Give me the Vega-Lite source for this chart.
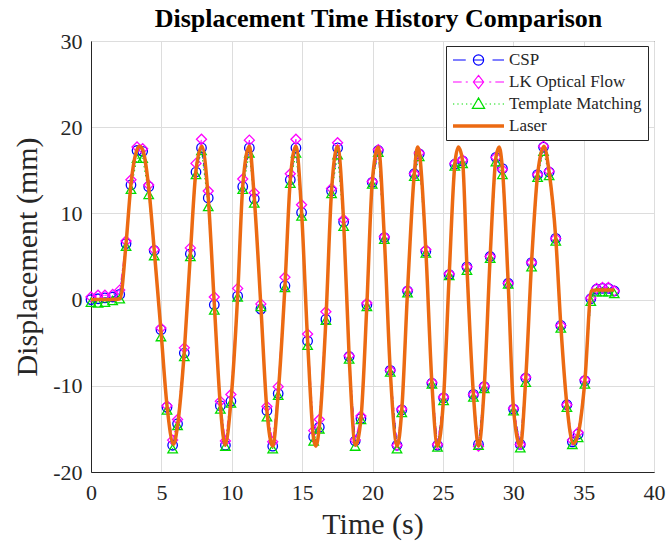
{
  "$schema": "https://vega.github.io/schema/vega-lite/v6.json",
  "width": 563,
  "height": 431,
  "autosize": {"type": "none"},
  "padding": {"left": 91, "top": 41, "right": 16, "bottom": 75},
  "background": "white",
  "title": {"text": "Displacement Time History Comparison", "font": "Liberation Serif", "fontSize": 26, "fontWeight": "bold", "color": "#000000", "anchor": "middle", "offset": -2, "dx": 6},
  "config": {
    "view": {"stroke": "#262626", "strokeWidth": 1},
    "axis": {"labelFont": "Liberation Serif", "labelFontSize": 22, "labelColor": "#262626", "titleFont": "Liberation Serif", "titleFontSize": 30, "titleFontWeight": "normal", "titleColor": "#262626", "gridColor": "#DDDDDD", "gridWidth": 1, "ticks": false, "domainColor": "#262626", "labelFlush": false},
    "legend": {"labelFont": "Liberation Serif", "labelFontSize": 17, "labelColor": "#262626"}
  },
  "datasets": {
    "markers": [
      {"t": 0, "CSP": 0.0, "LK Optical Flow": 0.3, "Template Matching": -0.3},
      {"t": 0.5, "CSP": 0.1, "LK Optical Flow": 0.5, "Template Matching": -0.4},
      {"t": 0.99, "CSP": 0.2, "LK Optical Flow": 0.5, "Template Matching": -0.3},
      {"t": 1.54, "CSP": 0.3, "LK Optical Flow": 0.6, "Template Matching": -0.1},
      {"t": 2.04, "CSP": 0.6, "LK Optical Flow": 1.1, "Template Matching": 0.1},
      {"t": 2.49, "CSP": 6.5, "LK Optical Flow": 6.8, "Template Matching": 6.2},
      {"t": 2.84, "CSP": 13.3, "LK Optical Flow": 13.9, "Template Matching": 12.8},
      {"t": 3.27, "CSP": 17.3, "LK Optical Flow": 17.7, "Template Matching": 16.4},
      {"t": 3.67, "CSP": 17.2, "LK Optical Flow": 17.5, "Template Matching": 16.4},
      {"t": 4.10, "CSP": 13.1, "LK Optical Flow": 13.3, "Template Matching": 12.2},
      {"t": 4.49, "CSP": 5.7, "LK Optical Flow": 5.8, "Template Matching": 5.1},
      {"t": 4.97, "CSP": -3.5, "LK Optical Flow": -3.3, "Template Matching": -4.3},
      {"t": 5.40, "CSP": -12.5, "LK Optical Flow": -12.3, "Template Matching": -12.8},
      {"t": 5.80, "CSP": -16.9, "LK Optical Flow": -16.3, "Template Matching": -17.3},
      {"t": 6.15, "CSP": -14.4, "LK Optical Flow": -13.9, "Template Matching": -14.6},
      {"t": 6.63, "CSP": -6.2, "LK Optical Flow": -5.6, "Template Matching": -6.6},
      {"t": 7.06, "CSP": 5.3, "LK Optical Flow": 6.0, "Template Matching": 5.0},
      {"t": 7.46, "CSP": 14.8, "LK Optical Flow": 15.8, "Template Matching": 14.5},
      {"t": 7.85, "CSP": 17.6, "LK Optical Flow": 18.6, "Template Matching": 17.3},
      {"t": 8.33, "CSP": 11.8, "LK Optical Flow": 12.6, "Template Matching": 10.8},
      {"t": 8.76, "CSP": -0.6, "LK Optical Flow": 0.3, "Template Matching": -1.2},
      {"t": 9.19, "CSP": -12.3, "LK Optical Flow": -11.8, "Template Matching": -12.7},
      {"t": 9.55, "CSP": -16.9, "LK Optical Flow": -16.4, "Template Matching": -17.0},
      {"t": 9.94, "CSP": -11.8, "LK Optical Flow": -11.0, "Template Matching": -12.0},
      {"t": 10.42, "CSP": 0.4, "LK Optical Flow": 1.3, "Template Matching": 0.3},
      {"t": 10.78, "CSP": 13.1, "LK Optical Flow": 14.0, "Template Matching": 12.8},
      {"t": 11.25, "CSP": 17.6, "LK Optical Flow": 18.5, "Template Matching": 17.0},
      {"t": 11.60, "CSP": 11.7, "LK Optical Flow": 12.4, "Template Matching": 11.2},
      {"t": 12.07, "CSP": -1.1, "LK Optical Flow": -0.5, "Template Matching": -0.8},
      {"t": 12.50, "CSP": -12.9, "LK Optical Flow": -12.4, "Template Matching": -13.6},
      {"t": 12.91, "CSP": -17.0, "LK Optical Flow": -16.5, "Template Matching": -17.3},
      {"t": 13.30, "CSP": -10.9, "LK Optical Flow": -10.1, "Template Matching": -11.1},
      {"t": 13.78, "CSP": 1.6, "LK Optical Flow": 2.6, "Template Matching": 1.4},
      {"t": 14.16, "CSP": 13.9, "LK Optical Flow": 14.6, "Template Matching": 13.5},
      {"t": 14.56, "CSP": 17.6, "LK Optical Flow": 18.6, "Template Matching": 17.0},
      {"t": 14.96, "CSP": 10.1, "LK Optical Flow": 11.0, "Template Matching": 9.7},
      {"t": 15.39, "CSP": -4.8, "LK Optical Flow": -4.0, "Template Matching": -5.3},
      {"t": 15.82, "CSP": -15.9, "LK Optical Flow": -15.2, "Template Matching": -16.4},
      {"t": 16.22, "CSP": -14.8, "LK Optical Flow": -13.9, "Template Matching": -15.0},
      {"t": 16.69, "CSP": -2.3, "LK Optical Flow": -1.4, "Template Matching": -2.4},
      {"t": 17.09, "CSP": 12.6, "LK Optical Flow": 12.9, "Template Matching": 12.3},
      {"t": 17.52, "CSP": 17.6, "LK Optical Flow": 18.2, "Template Matching": 16.8},
      {"t": 17.95, "CSP": 9.0, "LK Optical Flow": 9.3, "Template Matching": 8.5},
      {"t": 18.34, "CSP": -6.6, "LK Optical Flow": -6.5, "Template Matching": -6.9},
      {"t": 18.77, "CSP": -16.4, "LK Optical Flow": -16.3, "Template Matching": -17.0},
      {"t": 19.18, "CSP": -13.8, "LK Optical Flow": -13.5, "Template Matching": -13.9},
      {"t": 19.60, "CSP": -0.6, "LK Optical Flow": -0.4, "Template Matching": -0.8},
      {"t": 19.98, "CSP": 13.6, "LK Optical Flow": 13.7, "Template Matching": 13.4},
      {"t": 20.41, "CSP": 17.3, "LK Optical Flow": 17.4, "Template Matching": 17.1},
      {"t": 20.84, "CSP": 7.2, "LK Optical Flow": 7.3, "Template Matching": 7.0},
      {"t": 21.26, "CSP": -8.2, "LK Optical Flow": -8.2, "Template Matching": -8.4},
      {"t": 21.74, "CSP": -16.9, "LK Optical Flow": -16.9, "Template Matching": -17.3},
      {"t": 22.08, "CSP": -12.8, "LK Optical Flow": -12.7, "Template Matching": -13.1},
      {"t": 22.49, "CSP": 1.0, "LK Optical Flow": 1.1, "Template Matching": 0.8},
      {"t": 22.97, "CSP": 14.6, "LK Optical Flow": 14.6, "Template Matching": 14.3},
      {"t": 23.32, "CSP": 16.9, "LK Optical Flow": 17.0, "Template Matching": 16.6},
      {"t": 23.79, "CSP": 5.6, "LK Optical Flow": 5.8, "Template Matching": 5.4},
      {"t": 24.22, "CSP": -9.7, "LK Optical Flow": -9.6, "Template Matching": -9.8},
      {"t": 24.62, "CSP": -16.9, "LK Optical Flow": -16.8, "Template Matching": -17.1},
      {"t": 25.05, "CSP": -11.4, "LK Optical Flow": -11.3, "Template Matching": -11.7},
      {"t": 25.45, "CSP": 2.9, "LK Optical Flow": 3.0, "Template Matching": 2.8},
      {"t": 25.85, "CSP": 15.7, "LK Optical Flow": 15.8, "Template Matching": 15.5},
      {"t": 26.40, "CSP": 16.1, "LK Optical Flow": 16.2, "Template Matching": 15.8},
      {"t": 26.71, "CSP": 3.8, "LK Optical Flow": 3.8, "Template Matching": 3.4},
      {"t": 27.17, "CSP": -11.0, "LK Optical Flow": -11.0, "Template Matching": -11.3},
      {"t": 27.53, "CSP": -16.8, "LK Optical Flow": -17.0, "Template Matching": -16.9},
      {"t": 27.94, "CSP": -10.1, "LK Optical Flow": -10.0, "Template Matching": -10.3},
      {"t": 28.36, "CSP": 5.0, "LK Optical Flow": 5.0, "Template Matching": 4.8},
      {"t": 28.77, "CSP": 16.5, "LK Optical Flow": 16.5, "Template Matching": 16.0},
      {"t": 29.23, "CSP": 15.2, "LK Optical Flow": 15.1, "Template Matching": 14.5},
      {"t": 29.64, "CSP": 1.9, "LK Optical Flow": 1.9, "Template Matching": 1.8},
      {"t": 30.02, "CSP": -12.7, "LK Optical Flow": -12.6, "Template Matching": -12.9},
      {"t": 30.50, "CSP": -16.8, "LK Optical Flow": -16.8, "Template Matching": -17.2},
      {"t": 30.89, "CSP": -9.1, "LK Optical Flow": -9.0, "Template Matching": -9.6},
      {"t": 31.30, "CSP": 4.3, "LK Optical Flow": 4.3, "Template Matching": 3.8},
      {"t": 31.73, "CSP": 14.5, "LK Optical Flow": 14.5, "Template Matching": 14.2},
      {"t": 32.15, "CSP": 17.7, "LK Optical Flow": 17.8, "Template Matching": 17.2},
      {"t": 32.55, "CSP": 14.8, "LK Optical Flow": 14.9, "Template Matching": 14.4},
      {"t": 33.02, "CSP": 7.1, "LK Optical Flow": 7.1, "Template Matching": 6.8},
      {"t": 33.38, "CSP": -3.0, "LK Optical Flow": -3.0, "Template Matching": -3.3},
      {"t": 33.81, "CSP": -12.2, "LK Optical Flow": -12.2, "Template Matching": -12.5},
      {"t": 34.20, "CSP": -16.5, "LK Optical Flow": -16.3, "Template Matching": -16.8},
      {"t": 34.61, "CSP": -15.6, "LK Optical Flow": -15.4, "Template Matching": -16.0},
      {"t": 35.09, "CSP": -9.4, "LK Optical Flow": -9.3, "Template Matching": -9.8},
      {"t": 35.51, "CSP": 0.1, "LK Optical Flow": 0.2, "Template Matching": -0.2},
      {"t": 35.92, "CSP": 1.2, "LK Optical Flow": 1.3, "Template Matching": 0.9},
      {"t": 36.34, "CSP": 1.3, "LK Optical Flow": 1.4, "Template Matching": 0.9},
      {"t": 36.76, "CSP": 1.3, "LK Optical Flow": 1.4, "Template Matching": 0.9},
      {"t": 37.18, "CSP": 1.0, "LK Optical Flow": 1.0, "Template Matching": 0.7}
    ],
    "laser": [
      {"t": 0, "Laser": 0}, {"t": 0.5, "Laser": 0}, {"t": 0.99, "Laser": 0}, {"t": 1.54, "Laser": 0},
      {"t": 2.06, "Laser": 0.1}, {"t": 2.49, "Laser": 6.5}, {"t": 2.84, "Laser": 13.4}, {"t": 3.27, "Laser": 17.4},
      {"t": 3.43, "Laser": 17.8}, {"t": 3.67, "Laser": 17.4}, {"t": 4.10, "Laser": 13.0}, {"t": 4.49, "Laser": 5.8},
      {"t": 4.97, "Laser": -3.6}, {"t": 5.40, "Laser": -12.3}, {"t": 5.87, "Laser": -16.8}, {"t": 6.15, "Laser": -14.6},
      {"t": 6.63, "Laser": -6.0}, {"t": 7.06, "Laser": 5.3}, {"t": 7.46, "Laser": 15.0}, {"t": 7.88, "Laser": 17.8},
      {"t": 8.33, "Laser": 11.8}, {"t": 8.76, "Laser": -0.5}, {"t": 9.19, "Laser": -12.3}, {"t": 9.53, "Laser": -16.9},
      {"t": 9.94, "Laser": -11.8}, {"t": 10.42, "Laser": 0.5}, {"t": 10.78, "Laser": 13.1}, {"t": 11.25, "Laser": 17.8},
      {"t": 11.60, "Laser": 11.8}, {"t": 12.07, "Laser": -0.8}, {"t": 12.50, "Laser": -12.9}, {"t": 12.91, "Laser": -17.0},
      {"t": 13.30, "Laser": -10.9}, {"t": 13.78, "Laser": 1.6}, {"t": 14.16, "Laser": 13.9}, {"t": 14.56, "Laser": 17.8},
      {"t": 14.96, "Laser": 10.2}, {"t": 15.39, "Laser": -4.8}, {"t": 15.82, "Laser": -16.2}, {"t": 15.98, "Laser": -17.0},
      {"t": 16.22, "Laser": -14.8}, {"t": 16.69, "Laser": -2.3}, {"t": 17.09, "Laser": 12.6}, {"t": 17.52, "Laser": 17.8},
      {"t": 17.95, "Laser": 9.0}, {"t": 18.34, "Laser": -6.6}, {"t": 18.79, "Laser": -16.9}, {"t": 19.18, "Laser": -13.8},
      {"t": 19.60, "Laser": -0.6}, {"t": 19.98, "Laser": 13.6}, {"t": 20.41, "Laser": 17.7}, {"t": 20.84, "Laser": 7.2},
      {"t": 21.26, "Laser": -8.2}, {"t": 21.76, "Laser": -17.0}, {"t": 22.08, "Laser": -12.8}, {"t": 22.49, "Laser": 1.0},
      {"t": 22.97, "Laser": 14.6}, {"t": 23.20, "Laser": 17.7}, {"t": 23.32, "Laser": 17.2}, {"t": 23.79, "Laser": 5.7},
      {"t": 24.22, "Laser": -9.7}, {"t": 24.62, "Laser": -17.0}, {"t": 25.05, "Laser": -11.4}, {"t": 25.45, "Laser": 2.9},
      {"t": 25.85, "Laser": 15.7}, {"t": 26.10, "Laser": 17.7}, {"t": 26.40, "Laser": 16.1}, {"t": 26.71, "Laser": 3.8},
      {"t": 27.17, "Laser": -11.0}, {"t": 27.54, "Laser": -17.0}, {"t": 27.94, "Laser": -10.1}, {"t": 28.36, "Laser": 5.0},
      {"t": 28.77, "Laser": 16.5}, {"t": 29.00, "Laser": 17.7}, {"t": 29.23, "Laser": 15.2}, {"t": 29.64, "Laser": 1.9},
      {"t": 30.02, "Laser": -12.7}, {"t": 30.50, "Laser": -17.0}, {"t": 30.89, "Laser": -9.1}, {"t": 31.30, "Laser": 4.3},
      {"t": 31.73, "Laser": 14.5}, {"t": 32.18, "Laser": 17.8}, {"t": 32.55, "Laser": 14.8}, {"t": 33.02, "Laser": 7.1},
      {"t": 33.38, "Laser": -3.0}, {"t": 33.81, "Laser": -12.2}, {"t": 34.26, "Laser": -16.7}, {"t": 34.61, "Laser": -15.6},
      {"t": 35.09, "Laser": -9.4}, {"t": 35.55, "Laser": 1.0}, {"t": 35.92, "Laser": 1.1}, {"t": 36.34, "Laser": 1.1},
      {"t": 36.76, "Laser": 1.1}, {"t": 37.18, "Laser": 1.1}
    ]
  },
  "data": {"name": "markers"},
  "transform": [{"fold": ["CSP", "LK Optical Flow", "Template Matching"], "as": ["series", "value"]}],
  "encoding": {
    "x": {"field": "t", "type": "quantitative", "scale": {"domain": [0, 40], "nice": false}, "axis": {"title": "Time (s)", "values": [0, 5, 10, 15, 20, 25, 30, 35, 40], "labelPadding": 10, "titlePadding": 6, "labelFlush": false, "labelExpr": "'' + datum.value"}},
    "y": {"field": "value", "type": "quantitative", "scale": {"domain": [-20, 30], "nice": false}, "axis": {"title": "Displacement (mm)", "values": [-20, -10, 0, 10, 20, 30], "labelPadding": 9, "titlePadding": 10, "labelFlush": false, "labelExpr": "'' + datum.value"}},
    "color": {"field": "series", "type": "nominal", "scale": {"domain": ["CSP", "LK Optical Flow", "Template Matching", "Laser"], "range": ["#0000FF", "#FF00FF", "#00DD00", "#EC6A12"]},
      "legend": {"title": null, "orient": "none", "legendX": 355, "legendY": 5, "fillColor": "white", "strokeColor": "#262626", "padding": 6, "labelFont": "Liberation Serif", "labelFontSize": 17, "labelColor": "#262626", "symbolSize": 2601, "symbolStrokeWidth": 1.2, "clipHeight": 16, "rowPadding": 5, "labelOffset": 4,
        "encode": {
          "labels": {"update": {"font": {"value": "Liberation Serif"}, "fontSize": {"value": 17}}},
          "symbols": {"update": {
          "fill": {"value": "transparent"},
          "shape": {"signal": "datum.value === 'CSP' ? 'M-1,0H-0.5M0.2,0A0.2,0.2,0,1,1,-0.2,0A0.2,0.2,0,1,1,0.2,0M-0.2,0H0.2M0.55,0H1' : datum.value === 'LK Optical Flow' ? 'M-1,0H-0.66M-0.5,0H-0.42M0,-0.26L0.2,0L0,0.26L-0.2,0ZM-0.2,0H0.2M0.42,0H0.5M0.66,0H1' : datum.value === 'Template Matching' ? 'M-1,0H-0.95M-0.83,0H-0.78M-0.66,0H-0.61M-0.49,0H-0.44M-0.32,0H-0.27M0,-0.24L0.24,0.17L-0.24,0.17ZM0.27,0H0.32M0.44,0H0.49M0.61,0H0.66M0.78,0H0.83M0.95,0H1' : 'M-1,-0.045H1M-1,0H1M-1,0.045H1'"}
        }}}}
    }
  },
  "layer": [
    {"transform": [{"filter": "datum.series === 'CSP'"}], "mark": {"type": "line", "strokeWidth": 1, "strokeDash": [6, 4]}},
    {"transform": [{"filter": "datum.series === 'CSP'"}], "mark": {"type": "point", "shape": "circle", "filled": false, "size": 90, "strokeWidth": 1.3, "opacity": 1}},
    {"transform": [{"filter": "datum.series === 'LK Optical Flow'"}], "mark": {"type": "line", "strokeWidth": 1, "strokeDash": [6, 3, 1.5, 3]}},
    {"transform": [{"filter": "datum.series === 'LK Optical Flow'"}], "mark": {"type": "point", "shape": "diamond", "filled": false, "size": 100, "strokeWidth": 1.3, "opacity": 1}},
    {"transform": [{"filter": "datum.series === 'Template Matching'"}], "mark": {"type": "line", "strokeWidth": 1, "strokeDash": [1.5, 3]}},
    {"transform": [{"filter": "datum.series === 'Template Matching'"}], "mark": {"type": "point", "shape": "triangle-up", "filled": false, "size": 90, "strokeWidth": 1.3, "opacity": 1}},
    {"data": {"name": "laser"}, "transform": [{"fold": ["Laser"], "as": ["series", "value"]}], "mark": {"type": "line", "strokeWidth": 3.5, "interpolate": "monotone"}}
  ]
}
